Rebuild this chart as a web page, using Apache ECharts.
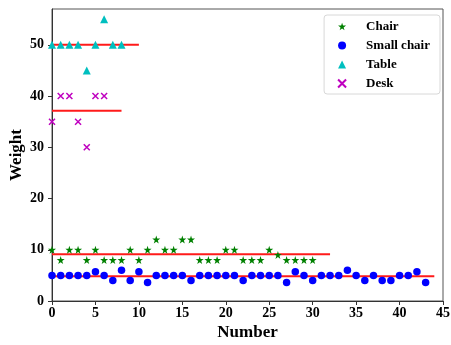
<!DOCTYPE html>
<html>
<head>
<meta charset="utf-8">
<script src="https://cdn.jsdelivr.net/npm/echarts@6/dist/echarts.min.js"></script>
<style>
  html, body { margin: 0; padding: 0; background: #fff; }
  #chart { width: 451px; height: 345px; }
</style>
</head>
<body>
<div id="chart"></div>
<script>
// Weight of each sample, indexed by sample number (0, 1, 2, ...)
const chairWeight = [10, 8, 10, 10, 8, 10, 8, 8, 8, 10, 8, 10, 12, 10, 10, 12,
                     12, 8, 8, 8, 10, 10, 8, 8, 8, 10, 9, 8, 8, 8, 8];
const smallChairWeight = [5, 5, 5, 5, 5, 5.7, 5, 4, 6, 4, 5.7, 3.6, 5, 5, 5, 5,
                          4, 5, 5, 5, 5, 5, 4, 5, 5, 5, 5, 3.6, 5.7, 5, 4, 5,
                          5, 5, 6, 5, 4, 5, 4, 4, 5, 5, 5.7, 3.6];
const tableWeight = [50, 50, 50, 50, 45, 50, 55, 50, 50];
const deskWeight = [35, 40, 40, 35, 30, 40, 40];

// Right end (in sample numbers) of each class's mean line
const chairLineEnd = 32;
const smallChairLineEnd = 44;
const tableLineEnd = 10;
const deskLineEnd = 8;

const xTicks = [0, 5, 10, 15, 20, 25, 30, 35, 40, 45];
const yTicks = [0, 10, 20, 30, 40, 50];

const seriesNames = ['Chair', 'Small chair', 'Table', 'Desk'];

const STAR = 'path://M50,0L61.23,34.55L97.55,34.55L68.17,55.9L79.39,90.45L50,69.1L20.61,90.45L31.83,55.9L2.45,34.55L38.77,34.55Z';
const CROSS = 'path://M0,0L10,10M0,10L10,0';
const FONT = '"Liberation Serif", "DejaVu Serif", serif';

const points = arr => arr.map((v, i) => [i, v]);
const mean = arr => arr.reduce((a, b) => a + b, 0) / arr.length;
const meanLine = (arr, end) => {
  const m = mean(arr);
  return {
    type: 'line',
    data: [[0, m], [end, m]],
    symbol: 'none',
    silent: true,
    z: 2,
    lineStyle: { color: '#ff1a1a', width: 2 }
  };
};

const chart = echarts.init(document.getElementById('chart'), null, { renderer: 'canvas' });

chart.setOption({
  animation: false,
  backgroundColor: '#fff',
  textStyle: { fontFamily: FONT },
  grid: {
    left: 52, right: 8, top: 9, bottom: 44,
    containLabel: false,
    outerBoundsMode: 'none',
    show: true, borderColor: '#555', borderWidth: 1
  },
  legend: {
    data: seriesNames,
    orient: 'vertical',
    right: 11,
    top: 15,
    padding: [5, 10, 4, 13],
    itemGap: 6,
    itemWidth: 8,
    itemHeight: 8,
    backgroundColor: '#fff',
    borderColor: '#d8d8d8',
    borderWidth: 1,
    borderRadius: 3,
    textStyle: {
      fontFamily: FONT, fontWeight: 'bold', fontSize: 13, color: '#000',
      padding: [0, 0, 0, 15]
    }
  },
  xAxis: {
    type: 'value',
    min: 0, max: 45, interval: 5,
    name: 'Number',
    nameLocation: 'middle',
    nameGap: 23,
    nameMoveOverlap: false,
    nameTextStyle: { fontFamily: FONT, fontWeight: 'bold', fontSize: 17, color: '#000' },
    splitLine: { show: false },
    axisLine: { show: true, onZero: false, lineStyle: { color: '#333', width: 1 } },
    axisTick: { show: true, inside: false, length: 4, lineStyle: { color: '#333' } },
    axisLabel: {
      fontFamily: FONT, fontWeight: 'bold', fontSize: 14, color: '#000', margin: 5,
      customValues: xTicks
    }
  },
  yAxis: {
    type: 'value',
    min: 0, max: 57,
    name: 'Weight',
    nameLocation: 'middle',
    nameRotate: 90,
    nameGap: 27,
    nameMoveOverlap: false,
    nameTextStyle: { fontFamily: FONT, fontWeight: 'bold', fontSize: 17, color: '#000' },
    splitLine: { show: false },
    axisLine: { show: true, onZero: false, lineStyle: { color: '#333', width: 1 } },
    axisTick: { show: true, inside: false, length: 4, lineStyle: { color: '#333' }, customValues: yTicks },
    axisLabel: {
      fontFamily: FONT, fontWeight: 'bold', fontSize: 14, color: '#000', margin: 8,
      customValues: yTicks
    }
  },
  series: [
    meanLine(chairWeight, chairLineEnd),
    meanLine(smallChairWeight, smallChairLineEnd),
    meanLine(tableWeight, tableLineEnd),
    meanLine(deskWeight, deskLineEnd),
    {
      name: 'Chair', type: 'scatter', z: 3,
      symbol: STAR, symbolSize: 8,
      itemStyle: { color: '#008000', opacity: 1 },
      data: points(chairWeight)
    },
    {
      name: 'Small chair', type: 'scatter', z: 3,
      symbol: 'circle', symbolSize: 7.5,
      itemStyle: { color: '#0000ff', opacity: 1 },
      data: points(smallChairWeight)
    },
    {
      name: 'Table', type: 'scatter', z: 3,
      symbol: 'triangle', symbolSize: 8,
      itemStyle: { color: '#00bfbf', opacity: 1 },
      data: points(tableWeight)
    },
    {
      name: 'Desk', type: 'scatter', z: 3,
      symbol: CROSS, symbolSize: 6,
      itemStyle: { color: 'rgba(0,0,0,0)', borderColor: '#bf00bf', borderWidth: 1.5, opacity: 1 },
      data: points(deskWeight)
    }
  ]
});
</script>
</body>
</html>
